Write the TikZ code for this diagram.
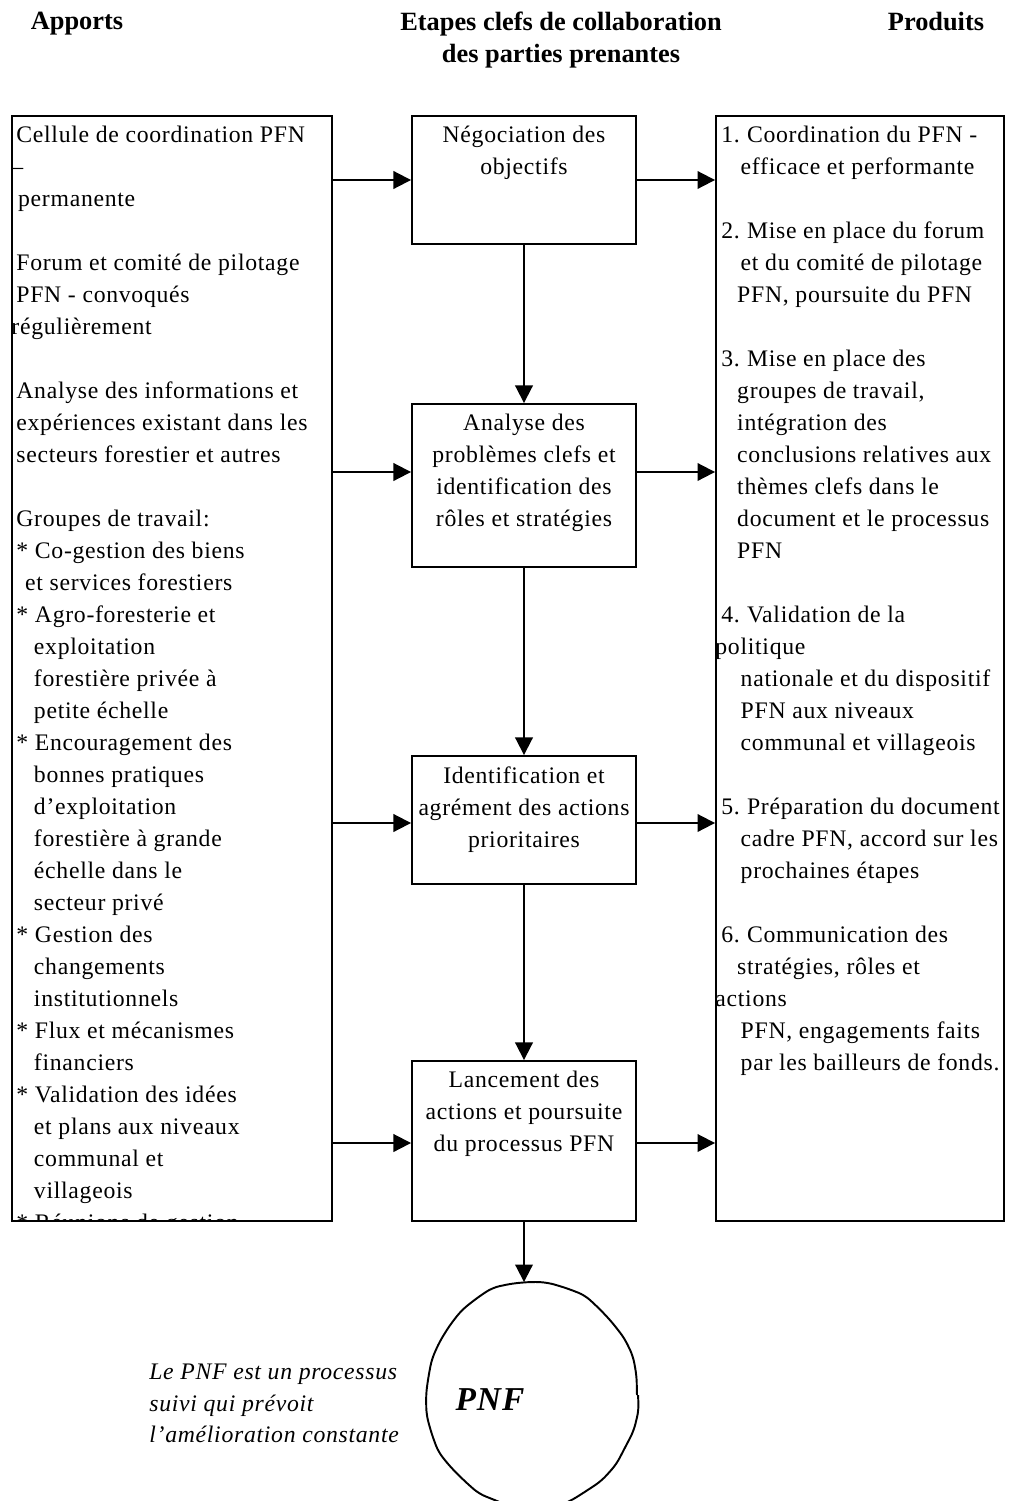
\documentclass[tikz,border=0pt]{standalone}
\usepackage{fontspec}
\setmainfont{Liberation Serif}[LetterSpace=3]
\newfontfamily\headfont{Liberation Serif}
\usetikzlibrary{arrows.meta,shapes.geometric,decorations.pathmorphing}

\tikzset{
  colbox/.style={draw, line width=1.1pt, inner sep=0pt, minimum height=22.1cm},
  stepbox/.style={draw, line width=1.1pt, inner sep=0pt, minimum width=4.48cm},
  coltext/.style={inner sep=0pt, align=left, font=\fontsize{13.5}{18.2}\selectfont},
  steptext/.style={coltext, align=center},
  heading/.style={inner sep=0pt, align=center, font=\headfont\bfseries\fontsize{15}{18.2}\selectfont},
  flow/.style={line width=1.1pt, -{Triangle[length=10pt,width=10pt]}},
  cycle/.style={draw, ellipse, line width=1.1pt, inner sep=0pt, decorate,
    decoration={random steps, segment length=11pt, amplitude=1pt}, rounded corners=4pt},
}

\begin{document}
\pgfmathsetseed{7}
\begin{tikzpicture}[x=0.02cm, y=-0.02cm]
\useasboundingbox (0,0) rectangle (1009,1501);
\clip (0,0) rectangle (1009,1501);

% headings
\node[heading, anchor=north] (hin) at (77,12) {Apports};
\node[heading, anchor=north] (hstep) at (561,12) {Etapes clefs de collaboration\\des parties prenantes};
\node[heading, anchor=north] (hout) at (936,12) {Produits};

% the two columns
\node[colbox, minimum width=6.4cm] (apports) at (172,668.5) {};
\node[colbox, minimum width=5.76cm] (produits) at (860,668.5) {};

% key steps
\node[stepbox, minimum height=2.56cm] (neg) at (524,180) {};
\node[stepbox, minimum height=3.26cm] (ana) at (524,485.5) {};
\node[stepbox, minimum height=2.56cm] (ident) at (524,820) {};
\node[stepbox, minimum height=3.2cm] (lanc) at (524,1141) {};
\node[cycle, minimum width=4.2cm, minimum height=4.48cm] (pnf) at (532,1395) {};

\node[steptext, anchor=north] (negtxt) at ([yshift=-0.22cm]neg.north) {Négociation des\\objectifs};
\node[steptext, anchor=north] (anatxt) at ([yshift=-0.22cm]ana.north) {Analyse des\\problèmes clefs et\\identification des\\rôles et stratégies};
\node[steptext, anchor=north] (identtxt) at ([yshift=-0.22cm]ident.north) {Identification et\\agrément des actions\\prioritaires};
\node[steptext, anchor=north] (lanctxt) at ([yshift=-0.22cm]lanc.north) {Lancement des\\actions et poursuite\\du processus PFN};

% inputs
\begin{scope}
\clip (apports.north west) rectangle (apports.south east);
\node[coltext, anchor=north west] (apptxt) at ([xshift=0.1cm,yshift=-0.22cm]apports.north west) {%
Cellule de coordination PFN\\
\hspace*{-2.8pt}–\\
\hspace*{1pt}permanente\\[18.2pt]
Forum et comité de pilotage\\
PFN - convoqués\\
\hspace*{-2.8pt}régulièrement\\[18.2pt]
Analyse des informations et\\
expériences existant dans les\\
secteurs forestier et autres\\[18.2pt]
Groupes de travail:\\
* Co-gestion des biens\\
\hspace*{5pt}et services forestiers\\
* Agro-foresterie et\\
\hspace*{10pt}exploitation\\
\hspace*{10pt}forestière privée à\\
\hspace*{10pt}petite échelle\\
* Encouragement des\\
\hspace*{10pt}bonnes pratiques\\
\hspace*{10pt}d’exploitation\\
\hspace*{10pt}forestière à grande\\
\hspace*{10pt}échelle dans le\\
\hspace*{10pt}secteur privé\\
* Gestion des\\
\hspace*{10pt}changements\\
\hspace*{10pt}institutionnels\\
* Flux et mécanismes\\
\hspace*{10pt}financiers\\
* Validation des idées\\
\hspace*{10pt}et plans aux niveaux\\
\hspace*{10pt}communal et\\
\hspace*{10pt}villageois\\
* Réunions de gestion};
\end{scope}

% outputs
\node[coltext, anchor=north west] (prodtxt) at ([xshift=0.12cm,yshift=-0.22cm]produits.north west) {%
1.\hspace{-1pt} Coordination du PFN -\\
\hspace*{11pt}efficace et performante\\[18.2pt]
2.\hspace{-1pt} Mise en place du forum\\
\hspace*{11pt}et du comité de pilotage\\
\hspace*{9pt}PFN, poursuite du PFN\\[18.2pt]
3.\hspace{-1pt} Mise en place des\\
\hspace*{9pt}groupes de travail,\\
\hspace*{9pt}intégration des\\
\hspace*{9pt}conclusions relatives aux\\
\hspace*{9pt}thèmes clefs dans le\\
\hspace*{9pt}document et le processus\\
\hspace*{9pt}PFN\\[18.2pt]
4.\hspace{-1pt} Validation de la\\
\hspace*{-3.4pt}politique\\
\hspace*{11pt}nationale et du dispositif\\
\hspace*{11pt}PFN aux niveaux\\
\hspace*{11pt}communal et villageois\\[18.2pt]
5.\hspace{-1pt} Préparation du document\\
\hspace*{11pt}cadre PFN, accord sur les\\
\hspace*{11pt}prochaines étapes\\[18.2pt]
6.\hspace{-1pt} Communication des\\
\hspace*{9pt}stratégies, rôles et\\
\hspace*{-3.4pt}actions\\
\hspace*{11pt}PFN, engagements faits\\
\hspace*{11pt}par les bailleurs de fonds.};

% note beside the cycle
\node[coltext, anchor=north west, font=\itshape\fontsize{13.5}{17.9}\selectfont] (note) at (149,1364) {Le PNF est un processus\\suivi qui prévoit\\l’amélioration constante};
\node[inner sep=0pt, font=\bfseries\itshape\fontsize{19}{22}\selectfont] (pnftxt) at (490,1400) {PNF};

% arrows
\coordinate (anain) at ([yshift=0.27cm]ana.west);
\coordinate (anaout) at ([yshift=0.27cm]ana.east);
\coordinate (identin) at ([yshift=-0.06cm]ident.west);
\coordinate (identout) at ([yshift=-0.06cm]ident.east);
\coordinate (lancin) at ([yshift=-0.04cm]lanc.west);
\coordinate (lancout) at ([yshift=-0.04cm]lanc.east);
\draw[flow] (neg.west -| apports.east) -- (neg.west);
\draw[flow] (neg.east) -- (neg.east -| produits.west);
\draw[flow] (anain -| apports.east) -- (anain);
\draw[flow] (anaout) -- (anaout -| produits.west);
\draw[flow] (identin -| apports.east) -- (identin);
\draw[flow] (identout) -- (identout -| produits.west);
\draw[flow] (lancin -| apports.east) -- (lancin);
\draw[flow] (lancout) -- (lancout -| produits.west);
\draw[flow] (neg.south) -- (ana.north);
\draw[flow] (ana.south) -- (ident.north);
\draw[flow] (ident.south) -- (lanc.north);
\draw[flow] (lanc.south) -- (lanc.south |- pnf.north);
\end{tikzpicture}
\end{document}
